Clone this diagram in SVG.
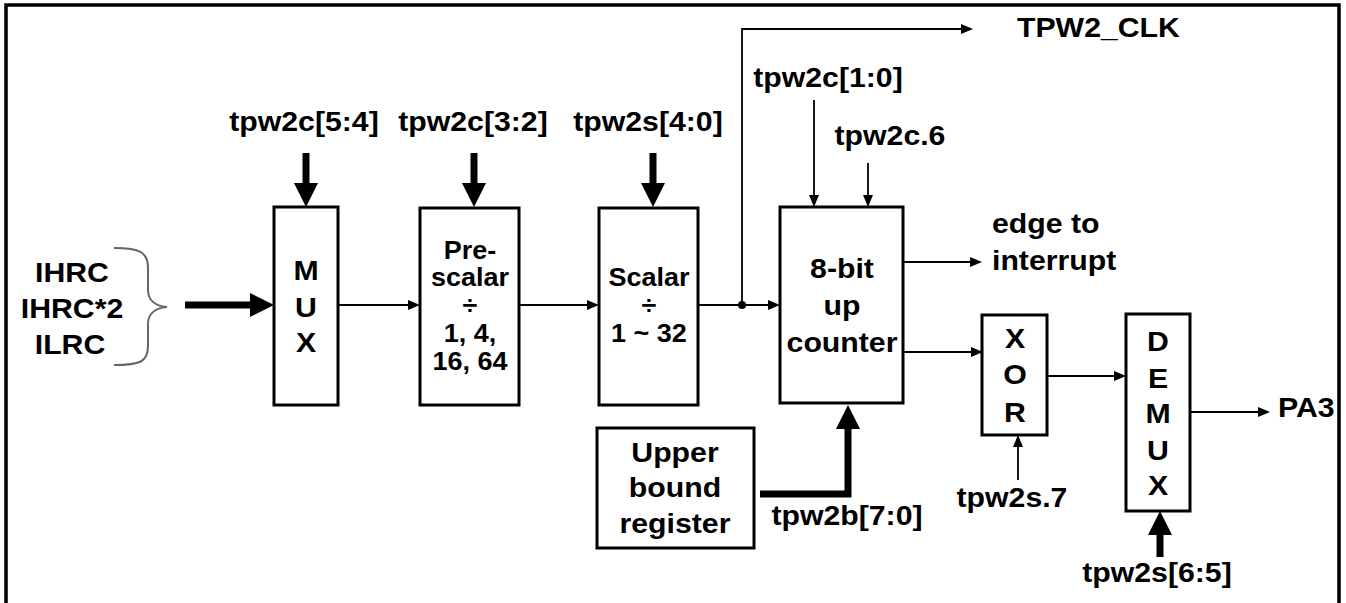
<svg xmlns="http://www.w3.org/2000/svg" width="1346" height="603" viewBox="0 0 1346 603">
<style>
text{font-family:"Liberation Sans",Arial,sans-serif;font-weight:bold;fill:#000;font-size:28px;transform:scale(1.08,1)}
.sm{font-size:25px}
.box{fill:#fff;stroke:#000;stroke-width:3}
.thin{fill:none;stroke:#000;stroke-width:1.8}
.thick{fill:none;stroke:#000;stroke-width:7}
</style>
<defs>
<marker id="ah" markerUnits="userSpaceOnUse" markerWidth="13" markerHeight="10" refX="0" refY="5" orient="auto" viewBox="0 0 13 10"><path d="M0,0 L12,5 L0,10 z" fill="#000"/></marker>
<marker id="AH" markerUnits="userSpaceOnUse" markerWidth="25" markerHeight="24" refX="0" refY="12" orient="auto" viewBox="0 0 25 24"><path d="M0,0 L24,12 L0,24 z" fill="#000"/></marker>
</defs>
<rect x="6" y="5" width="1333" height="620" fill="none" stroke="#000" stroke-width="3.5"/>

<g id="connectors">
<line class="thick" x1="306" y1="153" x2="306" y2="183" marker-end="url(#AH)"/>
<line class="thick" x1="474" y1="153" x2="474" y2="183" marker-end="url(#AH)"/>
<line class="thick" x1="653" y1="153" x2="653" y2="183" marker-end="url(#AH)"/>
<line class="thick" x1="185" y1="305" x2="250" y2="305" marker-end="url(#AH)"/>
<path class="thick" d="M760,494 H848 V429" stroke-linejoin="miter" marker-end="url(#AH)"/>
<line class="thick" x1="1160" y1="557" x2="1160" y2="535" marker-end="url(#AH)"/>
<line class="thin" x1="338" y1="305" x2="408" y2="305" marker-end="url(#ah)"/>
<line class="thin" x1="519" y1="305" x2="587" y2="305" marker-end="url(#ah)"/>
<line class="thin" x1="698" y1="305" x2="768" y2="305" marker-end="url(#ah)"/>
<path class="thin" d="M742,305 V29 H961" marker-end="url(#ah)"/>
<circle cx="742" cy="305" r="4" fill="#000"/>
<line class="thin" x1="814" y1="100" x2="814" y2="195" marker-end="url(#ah)"/>
<line class="thin" x1="868" y1="163" x2="868" y2="195" marker-end="url(#ah)"/>
<line class="thin" x1="903" y1="262" x2="970" y2="262" marker-end="url(#ah)"/>
<line class="thin" x1="903" y1="352" x2="971" y2="352" marker-end="url(#ah)"/>
<line class="thin" x1="1047" y1="376" x2="1114" y2="376" marker-end="url(#ah)"/>
<line class="thin" x1="1190" y1="412" x2="1258" y2="412" marker-end="url(#ah)"/>
<line class="thin" x1="1018" y1="480" x2="1018" y2="447" marker-end="url(#ah)"/>
</g>

<g id="inputs">
<text x="66.67" y="282" text-anchor="middle">IHRC</text>
<text x="66.67" y="318" text-anchor="middle">IHRC*2</text>
<text x="64.81" y="354" text-anchor="middle">ILRC</text>
<path d="M114,248 C140,248 148,252 148,268 V290 C148,300 155,306 167,307 C155,308 148,314 148,324 V346 C148,362 140,365 114,365" fill="none" stroke="#666" stroke-width="2"/>
</g>

<g id="mux">
<rect class="box" x="274" y="207" width="64" height="198"/>
<text x="283.33" y="280" text-anchor="middle">M</text>
<text x="283.33" y="317" text-anchor="middle">U</text>
<text x="283.33" y="352" text-anchor="middle">X</text>
</g>

<g id="prescalar">
<rect class="box" x="420" y="208" width="99" height="197"/>
<text class="sm" x="435.19" y="259" text-anchor="middle">Pre-</text>
<text class="sm" x="435.19" y="286" text-anchor="middle">scalar</text>
<text class="sm" x="435.19" y="314" text-anchor="middle">÷</text>
<text class="sm" x="435.19" y="342" text-anchor="middle">1, 4,</text>
<text class="sm" x="435.19" y="370" text-anchor="middle">16, 64</text>
</g>

<g id="scalar">
<rect class="box" x="599" y="208" width="99" height="197"/>
<text class="sm" x="600.93" y="286" text-anchor="middle">Scalar</text>
<text class="sm" x="600.93" y="314" text-anchor="middle">÷</text>
<text class="sm" x="600.93" y="342" text-anchor="middle">1 ~ 32</text>
</g>

<g id="counter">
<rect class="box" x="780" y="207" width="123" height="196"/>
<text x="779.63" y="278" text-anchor="middle">8-bit</text>
<text x="779.63" y="315" text-anchor="middle">up</text>
<text x="779.63" y="352" text-anchor="middle">counter</text>
</g>

<g id="upper">
<rect class="box" x="597" y="428" width="157" height="120"/>
<text x="625" y="462" text-anchor="middle">Upper</text>
<text x="625" y="497" text-anchor="middle">bound</text>
<text x="625" y="533" text-anchor="middle">register</text>
</g>

<g id="xor">
<rect class="box" x="982" y="315" width="65" height="120"/>
<text x="939.81" y="348" text-anchor="middle">X</text>
<text x="939.81" y="384" text-anchor="middle">O</text>
<text x="939.81" y="422" text-anchor="middle">R</text>
</g>

<g id="demux">
<rect class="box" x="1126" y="314" width="64" height="197"/>
<text x="1072.22" y="351" text-anchor="middle">D</text>
<text x="1072.22" y="388" text-anchor="middle">E</text>
<text x="1072.22" y="423" text-anchor="middle">M</text>
<text x="1072.22" y="460" text-anchor="middle">U</text>
<text x="1072.22" y="495" text-anchor="middle">X</text>
</g>

<g id="labels">
<text x="281.48" y="131" text-anchor="middle">tpw2c[5:4]</text>
<text x="437.96" y="131" text-anchor="middle">tpw2c[3:2]</text>
<text x="600" y="131" text-anchor="middle">tpw2s[4:0]</text>
<text x="941.67" y="37">TPW2_CLK</text>
<text x="766.67" y="87" text-anchor="middle">tpw2c[1:0]</text>
<text x="824.07" y="145" text-anchor="middle">tpw2c.6</text>
<text x="918.52" y="233">edge to</text>
<text x="918.52" y="270">interrupt</text>
<text x="784.26" y="525" text-anchor="middle">tpw2b[7:0]</text>
<text x="937.04" y="507" text-anchor="middle">tpw2s.7</text>
<text x="1183.33" y="417">PA3</text>
<text x="1071.3" y="582" text-anchor="middle">tpw2s[6:5]</text>
</g>
</svg>
